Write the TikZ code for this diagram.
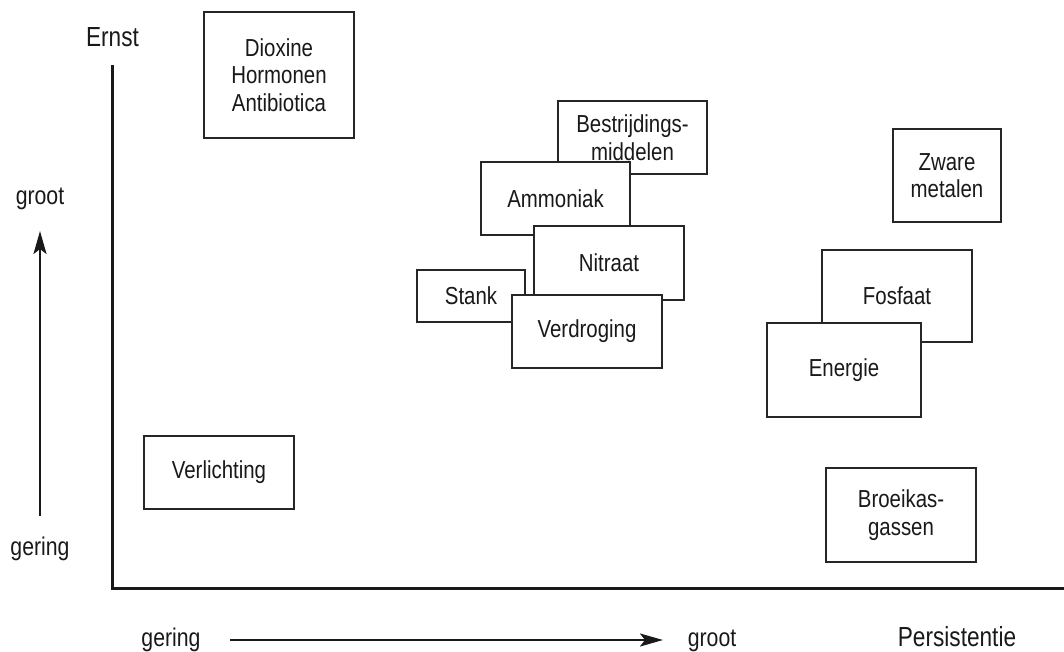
\documentclass[tikz,border=0pt]{standalone}
\usepackage{fontspec}
\setmainfont{Liberation Sans}[FakeStretch=0.83]
\newfontfamily\titlefont{Liberation Sans}[FakeStretch=0.82]
\usetikzlibrary{arrows.meta}
\tikzset{
  box/.style={draw=black!85, line width=0.8pt, fill=white, align=center,
    inner sep=0pt, text=black!90, font=\fontsize{12.3}{13.8}\selectfont},
  lbl/.style={inner sep=0pt, anchor=base, text=black!90, font=\fontsize{12.8}{15}\selectfont},
  ttl/.style={inner sep=0pt, anchor=base, text=black!90, font=\titlefont\fontsize{13.8}{16}\selectfont},
  axisline/.style={line width=1.5pt, black!90},
  scalearrow/.style={line width=1.2pt, black!90,
    -{Stealth[length=11.5pt,width=6.5pt,inset=2.5pt]}}
}
\begin{document}
\begin{tikzpicture}[x=0.5pt, y=-0.5pt]
  \useasboundingbox (0,0) rectangle (1064,652);

  % axes
  \coordinate (ytop) at (112,65);
  \coordinate (origin) at (112,588);
  \coordinate (xend) at (1066,588);
  \draw[axisline] (ytop) -- (origin) -- (xend);

  % axis titles
  \node[ttl] (ernst) at (112.5,47) {Ernst};
  \node[ttl] (pers) at (957,646) {Persistentie};

  % vertical scale
  \node[lbl] (grootL) at (40,205) {groot};
  \node[lbl] (geringL) at (40,555) {gering};
  \coordinate (vlow) at (40,516);
  \coordinate (vhigh) at (40,231);
  \draw[scalearrow] (vlow) -- (vhigh);

  % horizontal scale
  \node[lbl] (geringB) at (171,646) {gering};
  \node[lbl] (grootB) at (712,646) {groot};
  \coordinate (hlow) at (230,640);
  \coordinate (hhigh) at (663,640);
  \draw[scalearrow] (hlow) -- (hhigh);

  % categories (drawn back to front)
  \node[box, minimum width=75pt, minimum height=63pt] (dioxine) at (279,75)
    {Dioxine\\Hormonen\\Antibiotica};
  \node[box, minimum width=74.5pt, minimum height=36.5pt] (bestr) at (632.5,137.5)
    {Bestrijdings-\\middelen};
  \node[box, minimum width=74.5pt, minimum height=36.5pt] (ammoniak) at (555.5,198.5)
    {Ammoniak};
  \node[box, minimum width=75pt, minimum height=37pt] (nitraat) at (609,263)
    {Nitraat};
  \node[box, minimum width=54pt, minimum height=26pt] (stank) at (471,296)
    {Stank};
  \node[box, minimum width=75pt, minimum height=36.5pt] (verdroging) at (587,331.5)
    {Verdroging};

  \node[box, minimum width=54pt, minimum height=46.5pt] (zware) at (947,175.5)
    {Zware\\metalen};
  \node[box, minimum width=75pt, minimum height=46pt] (fosfaat) at (897,296)
    {Fosfaat};
  \node[box, minimum width=77pt, minimum height=47pt] (energie) at (844,370)
    {Energie};

  \node[box, minimum width=75pt, minimum height=36.5pt] (verlichting) at (219,472.5)
    {Verlichting};
  \node[box, minimum width=75pt, minimum height=47pt] (broeikas) at (901,515)
    {Broeikas-\\gassen};
\end{tikzpicture}
\end{document}
